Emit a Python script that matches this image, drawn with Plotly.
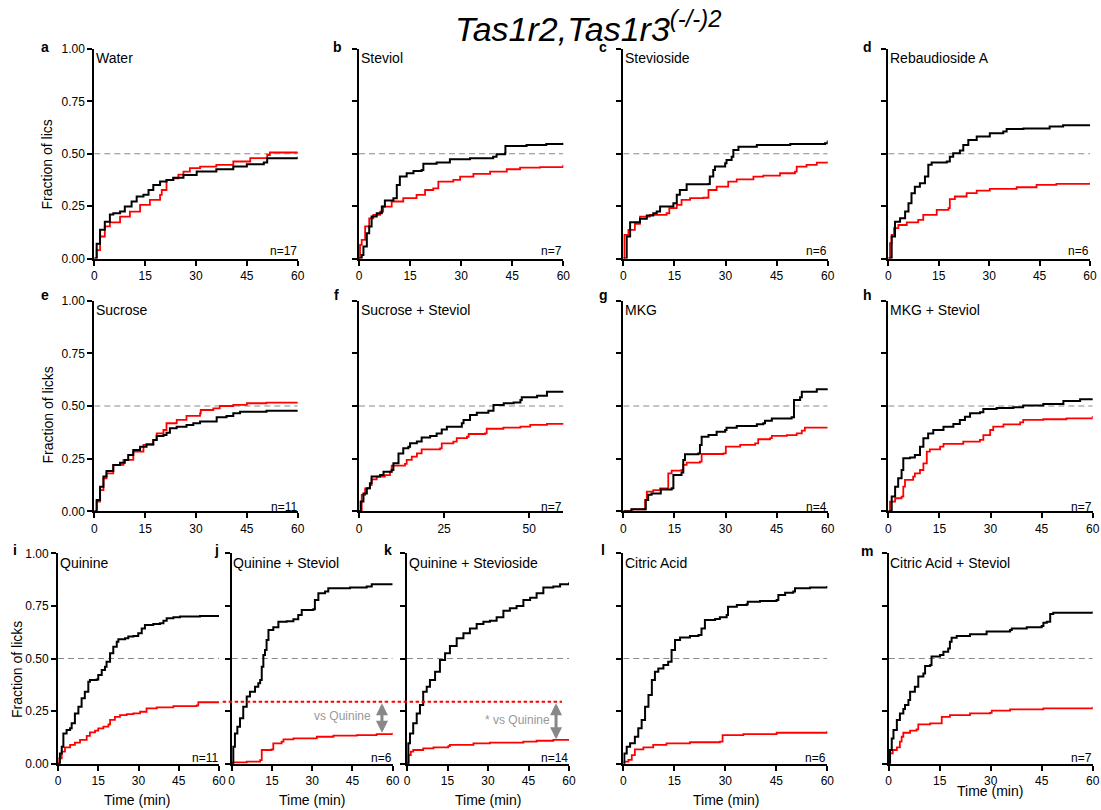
import plotly.graph_objects as go

# ---------------- data ----------------
PANEL_LETTERS = ["a", "b", "c", "d", "e", "f", "g", "h", "i", "j", "k", "l", "m"]
PANEL_NAMES = ["Water", "Steviol", "Stevioside", "Rebaudioside A",
               "Sucrose", "Sucrose + Steviol", "MKG", "MKG + Steviol",
               "Quinine", "Quinine + Steviol", "Quinine + Stevioside",
               "Citric Acid", "Citric Acid + Steviol"]
N_LABELS = ["n=17", "n=7", "n=6", "n=6", "n=11", "n=7", "n=4", "n=7",
            "n=11", "n=6", "n=14", "n=6", "n=7"]
Y_TICKS = [0, 0.25, 0.5, 0.75, 1.0]
Y_TICK_TEXT = ["0.00", "0.25", "0.50", "0.75", "1.00"]
X_TICKS = [0, 15, 30, 45, 60]
X_TICKS_F = [0, 25, 50]
HALF_LINE = 0.5
QUININE_REF = 0.295

a_bt = [0, 0.7, 1.7, 3.1, 4.6, 5.6, 7.6, 9, 11, 12.5, 14.5, 16, 17.4, 19.4, 21.3, 23.3, 26.3, 30.2, 36, 41, 45, 50, 51, 60]
a_bv = [0, 0.07, 0.137, 0.176, 0.21, 0.216, 0.224, 0.248, 0.272, 0.296, 0.304, 0.327, 0.351, 0.367, 0.375, 0.386, 0.399, 0.415, 0.426, 0.439, 0.45, 0.458, 0.479, 0.486]
a_rt = [0, 0.7, 1.7, 3.1, 4.6, 7.6, 10.5, 13.5, 16.4, 19.4, 19.9, 21.3, 23.3, 24.8, 26.3, 28.2, 31.2, 36, 41, 46, 51, 51.8, 60]
a_rv = [0, 0.04, 0.105, 0.153, 0.172, 0.2, 0.224, 0.256, 0.28, 0.304, 0.327, 0.375, 0.383, 0.4, 0.415, 0.431, 0.439, 0.447, 0.463, 0.479, 0.494, 0.506, 0.51]

b_bt = [0, 0.8, 1.3, 2.3, 3, 3.7, 5.2, 6.7, 7.6, 10.1, 11.1, 12, 14, 16, 18.4, 18.9, 22.8, 26.7, 32.6, 39.4, 40.4, 42.9, 43, 49.2, 55, 60]
b_bv = [0, 0.017, 0.057, 0.12, 0.153, 0.2, 0.216, 0.248, 0.277, 0.288, 0.351, 0.391, 0.407, 0.418, 0.423, 0.452, 0.458, 0.474, 0.479, 0.486, 0.498, 0.502, 0.537, 0.542, 0.547, 0.553]
b_rt = [0, 0.3, 0.8, 1.8, 3, 4.2, 6.2, 7.1, 9.6, 13, 16.9, 19.4, 21.8, 23.3, 27.7, 29.7, 33.6, 38.5, 43.4, 47.3, 53.2, 60]
b_rv = [0, 0.065, 0.089, 0.153, 0.192, 0.208, 0.224, 0.248, 0.272, 0.288, 0.304, 0.327, 0.335, 0.367, 0.375, 0.391, 0.404, 0.415, 0.426, 0.434, 0.436, 0.447]

c_bt = [0, 1, 2, 3.4, 4.9, 6.9, 8.8, 9.8, 10.8, 14.7, 15.7, 16.6, 18.6, 25, 25.4, 26.4, 26.9, 29.9, 30.3, 31.8, 32.3, 33.8, 39.2, 49, 59.2, 60]
c_bv = [0, 0.105, 0.173, 0.173, 0.19, 0.205, 0.216, 0.224, 0.248, 0.264, 0.304, 0.327, 0.355, 0.356, 0.391, 0.423, 0.439, 0.455, 0.47, 0.486, 0.518, 0.534, 0.542, 0.547, 0.55, 0.563]
c_rt = [0, 0.3, 1.5, 3.4, 4.9, 7.8, 12.7, 13.5, 15.7, 17.1, 19.6, 23.5, 25, 27.4, 30.8, 33.3, 38.2, 41.1, 46, 50.4, 50.9, 53.8, 56.8, 60]
c_rv = [0, 0.113, 0.137, 0.165, 0.2, 0.208, 0.216, 0.24, 0.256, 0.28, 0.288, 0.29, 0.327, 0.343, 0.367, 0.378, 0.391, 0.396, 0.407, 0.415, 0.439, 0.447, 0.458, 0.463]

d_bt = [0, 1, 2, 3.5, 5, 6, 6.9, 7.9, 9.4, 10.9, 11.9, 12.9, 17.4, 18.3, 19.3, 21.3, 22.3, 23.8, 26.3, 30.2, 34.2, 35.2, 40.2, 48, 52, 60]
d_bv = [0, 0.105, 0.176, 0.192, 0.224, 0.264, 0.312, 0.343, 0.359, 0.391, 0.447, 0.458, 0.463, 0.486, 0.502, 0.515, 0.542, 0.566, 0.582, 0.598, 0.606, 0.618, 0.62, 0.63, 0.636, 0.638]
d_rt = [0, 0.5, 1, 1.7, 3, 5.5, 8.9, 10.4, 14.4, 17.9, 18.3, 19.8, 23.3, 26.3, 30.2, 38.2, 44.1, 50, 60]
d_rv = [0, 0.073, 0.113, 0.145, 0.16, 0.172, 0.184, 0.208, 0.232, 0.24, 0.283, 0.296, 0.312, 0.324, 0.332, 0.34, 0.351, 0.356, 0.362]

e_bt = [0, 0.7, 1.7, 2.7, 3.6, 5.6, 7.6, 9, 10, 11.5, 13.5, 15.4, 17.4, 18.4, 20.4, 21.3, 22.3, 24.3, 27.2, 29.2, 31.2, 36.1, 39, 41, 43, 50.8, 60]
e_bv = [0, 0.054, 0.117, 0.165, 0.191, 0.22, 0.231, 0.244, 0.267, 0.291, 0.307, 0.318, 0.339, 0.358, 0.362, 0.373, 0.394, 0.402, 0.41, 0.418, 0.426, 0.446, 0.453, 0.465, 0.473, 0.478, 0.48]
e_rt = [0, 0.7, 1.7, 2.7, 3.6, 5.6, 8.6, 11.5, 14.5, 17.4, 18.4, 20.4, 21.3, 24.3, 27.2, 31.2, 31.4, 35.1, 37, 41, 45, 50.8, 60]
e_rv = [0, 0.046, 0.101, 0.157, 0.18, 0.22, 0.244, 0.283, 0.315, 0.339, 0.37, 0.386, 0.418, 0.434, 0.453, 0.465, 0.481, 0.489, 0.5, 0.505, 0.513, 0.516, 0.519]

f_bt = [0, 0.5, 1.3, 2.3, 3.2, 3.7, 6.2, 7.2, 9.6, 10.1, 11.6, 13, 14.5, 15, 17, 18.4, 20.9, 22.8, 24.3, 25.8, 30.2, 30.7, 32.6, 34.6, 38, 39.5, 42.5, 45.4, 47.4, 47.8, 52.3, 55.2, 60]
f_bv = [0, 0.046, 0.085, 0.109, 0.133, 0.165, 0.172, 0.188, 0.196, 0.228, 0.275, 0.299, 0.307, 0.323, 0.331, 0.351, 0.358, 0.37, 0.389, 0.402, 0.418, 0.434, 0.457, 0.468, 0.478, 0.505, 0.513, 0.517, 0.528, 0.541, 0.549, 0.568, 0.573]
f_rt = [0, 0.8, 1.8, 3.2, 3.7, 5.2, 7.6, 9.1, 9.6, 13.5, 14, 15.5, 17, 18.4, 23.8, 24.3, 27.7, 28.7, 31.7, 32.2, 37, 37.5, 42.4, 47.4, 50.3, 55.2, 60]
f_rv = [0, 0.078, 0.109, 0.125, 0.152, 0.165, 0.172, 0.188, 0.217, 0.225, 0.244, 0.26, 0.275, 0.294, 0.299, 0.323, 0.331, 0.347, 0.354, 0.367, 0.37, 0.392, 0.397, 0.402, 0.41, 0.415, 0.419]

g_bt = [0, 2.4, 6.4, 6.6, 7.3, 8.3, 10.8, 11, 14.2, 14.7, 17.1, 17.6, 18.1, 22, 22.5, 23, 25, 27.4, 29.9, 30.3, 33.3, 39.2, 41.1, 41.6, 43.6, 49.4, 50.1, 51.9, 52.4, 56.8, 60]
g_bv = [0, 0.0095, 0.0095, 0.054, 0.078, 0.085, 0.085, 0.104, 0.109, 0.172, 0.184, 0.244, 0.271, 0.275, 0.315, 0.354, 0.362, 0.378, 0.386, 0.397, 0.405, 0.413, 0.418, 0.43, 0.441, 0.446, 0.528, 0.541, 0.568, 0.579, 0.584]
g_rt = [0, 2.4, 5.9, 6.4, 6.9, 8.8, 10.8, 12.7, 13.2, 14.2, 17.1, 17.6, 18.6, 22.5, 23, 29.4, 30.1, 34.3, 38.7, 39.6, 43.1, 43.6, 48, 50.9, 52.4, 53.3, 60]
g_rv = [0, 0.0095, 0.0095, 0.054, 0.093, 0.101, 0.109, 0.109, 0.18, 0.193, 0.196, 0.22, 0.231, 0.236, 0.272, 0.275, 0.307, 0.315, 0.323, 0.342, 0.347, 0.358, 0.362, 0.37, 0.383, 0.397, 0.397]

h_bt = [0, 1, 2, 2.9, 3.9, 4.4, 6.4, 7.8, 9.3, 10.3, 11.7, 13.2, 16.2, 19.1, 21, 22.5, 24, 26.9, 27.9, 31.8, 36.7, 39.6, 45.5, 51.4, 56.3, 60]
h_bv = [0, 0.07, 0.117, 0.157, 0.196, 0.252, 0.255, 0.267, 0.307, 0.347, 0.37, 0.386, 0.402, 0.415, 0.434, 0.449, 0.465, 0.47, 0.486, 0.491, 0.494, 0.502, 0.51, 0.524, 0.532, 0.536]
h_rt = [0, 0.5, 2, 3.9, 4.4, 4.9, 7.3, 7.8, 9.3, 10.3, 11.3, 12.2, 15.2, 16.2, 22, 26.9, 27.9, 29.9, 30.8, 33.8, 38.7, 39.6, 45.5, 52.3, 60]
h_rv = [0, 0.046, 0.062, 0.07, 0.117, 0.149, 0.165, 0.18, 0.196, 0.228, 0.283, 0.294, 0.307, 0.32, 0.331, 0.339, 0.362, 0.386, 0.402, 0.413, 0.422, 0.434, 0.437, 0.441, 0.453]

i_bt = [0, 0.7, 1.4, 2, 3.2, 4.5, 5.1, 6.3, 7.6, 8.8, 10, 11.3, 11.9, 14.4, 15, 16.3, 17.5, 18.1, 19.4, 20.6, 21.9, 22.5, 25, 26.2, 28.1, 29.9, 31.2, 32.4, 35.5, 38, 39.3, 40.5, 43, 45.5, 52.9, 60]
i_bv = [0, 0.049, 0.081, 0.144, 0.16, 0.168, 0.192, 0.239, 0.271, 0.311, 0.342, 0.39, 0.398, 0.4, 0.422, 0.445, 0.461, 0.485, 0.525, 0.556, 0.58, 0.591, 0.596, 0.604, 0.607, 0.62, 0.643, 0.659, 0.664, 0.667, 0.68, 0.691, 0.696, 0.7, 0.702, 0.705]
i_rt = [0, 0.5, 1.4, 2.6, 4.5, 6.3, 8.2, 10.7, 11.9, 13.8, 15, 16.9, 18.8, 19.4, 21.2, 23.1, 25.6, 28.1, 30.6, 33, 36.8, 43, 51.7, 52.3, 60]
i_rv = [0, 0.025, 0.057, 0.078, 0.089, 0.1, 0.113, 0.132, 0.149, 0.157, 0.168, 0.176, 0.187, 0.208, 0.223, 0.231, 0.236, 0.239, 0.247, 0.263, 0.268, 0.274, 0.277, 0.292, 0.295]

j_bt = [0, 0.6, 1.2, 2.1, 3.1, 4.3, 5.6, 6.8, 8.7, 9.9, 10.6, 11.2, 11.8, 12.4, 13, 13.7, 15.5, 17.4, 20.5, 23, 24.8, 26.1, 30.4, 31, 32.3, 34.8, 36, 44.1, 50.3, 52.2, 60]
j_bv = [0, 0.081, 0.144, 0.176, 0.216, 0.271, 0.319, 0.342, 0.366, 0.382, 0.398, 0.461, 0.517, 0.54, 0.588, 0.636, 0.648, 0.675, 0.677, 0.686, 0.707, 0.731, 0.734, 0.778, 0.81, 0.818, 0.834, 0.838, 0.842, 0.853, 0.853]
j_rt = [0, 0.6, 5.6, 10.6, 11.2, 14.9, 15.5, 18.6, 19.3, 23, 31.7, 37.9, 46.6, 54, 60]
j_rv = [0, 0.006, 0.0095, 0.017, 0.065, 0.068, 0.097, 0.105, 0.116, 0.12, 0.128, 0.133, 0.136, 0.141, 0.147]

k_bt = [0, 0.5, 1.1, 2.3, 3.6, 4.8, 6, 7.3, 8.5, 10.4, 12.2, 14.1, 15.9, 18.4, 20.9, 23.3, 25.8, 28.3, 30.7, 33.2, 35.7, 38.1, 40.6, 43.1, 45.6, 48, 50.5, 54.2, 56.7, 60]
k_bv = [0, 0.097, 0.144, 0.192, 0.239, 0.279, 0.342, 0.366, 0.398, 0.437, 0.493, 0.525, 0.559, 0.596, 0.62, 0.643, 0.664, 0.675, 0.68, 0.696, 0.727, 0.739, 0.75, 0.778, 0.789, 0.81, 0.837, 0.842, 0.853, 0.861]
k_rt = [0, 0.6, 1.4, 2.3, 6, 9.8, 15.3, 15.9, 24.6, 30.7, 43.1, 48, 54.2, 60]
k_rv = [0, 0.041, 0.057, 0.065, 0.073, 0.078, 0.084, 0.089, 0.097, 0.1, 0.105, 0.109, 0.113, 0.116]

l_bt = [0, 0.3, 1, 2, 3.4, 4.4, 5.4, 6.4, 7.4, 8.4, 9.3, 10.3, 11.8, 13.2, 14.2, 15.2, 16.7, 19.6, 22.1, 23, 24, 27, 28.4, 30.4, 30.8, 33.4, 36.3, 36.6, 40.2, 45.1, 45.6, 47.6, 50, 50.5, 54.9, 60]
l_bv = [0, 0.049, 0.081, 0.097, 0.128, 0.168, 0.208, 0.271, 0.327, 0.398, 0.437, 0.453, 0.469, 0.485, 0.54, 0.588, 0.6, 0.607, 0.612, 0.643, 0.683, 0.688, 0.696, 0.707, 0.746, 0.754, 0.758, 0.77, 0.773, 0.778, 0.802, 0.813, 0.818, 0.834, 0.838, 0.844]
l_rt = [0, 0.3, 1.5, 2.5, 3.4, 5.9, 8.8, 12.7, 19.6, 28.4, 29.2, 35.3, 45.1, 60]
l_rv = [0, 0.01, 0.018, 0.041, 0.068, 0.078, 0.089, 0.097, 0.102, 0.105, 0.136, 0.141, 0.147, 0.155]

m_bt = [0, 0.4, 0.9, 1.4, 2.4, 3.3, 4.3, 4.8, 5.8, 6.3, 7.7, 8.7, 10.2, 10.7, 12.2, 12.6, 15.1, 16.1, 17.5, 18, 18.5, 20, 23.9, 28.8, 35.7, 36.2, 40.6, 45, 45.5, 46.5, 47.5, 48.4, 55.3, 60]
m_bv = [0, 0.065, 0.12, 0.16, 0.208, 0.239, 0.26, 0.279, 0.303, 0.342, 0.366, 0.414, 0.429, 0.464, 0.469, 0.509, 0.517, 0.532, 0.548, 0.58, 0.599, 0.607, 0.615, 0.628, 0.636, 0.643, 0.648, 0.655, 0.67, 0.675, 0.712, 0.718, 0.718, 0.723]
m_rt = [0, 0.4, 1.2, 2.4, 3.3, 3.8, 4.3, 6.3, 8.2, 8.7, 12.2, 15.1, 15.6, 18, 23.9, 29.8, 30.3, 35.7, 45.5, 60]
m_rv = [0, 0.049, 0.065, 0.078, 0.105, 0.128, 0.147, 0.157, 0.163, 0.187, 0.192, 0.192, 0.223, 0.231, 0.239, 0.242, 0.252, 0.258, 0.263, 0.271]

BLACK_T = [a_bt, b_bt, c_bt, d_bt, e_bt, f_bt, g_bt, h_bt, i_bt, j_bt, k_bt, l_bt, m_bt]
BLACK_V = [a_bv, b_bv, c_bv, d_bv, e_bv, f_bv, g_bv, h_bv, i_bv, j_bv, k_bv, l_bv, m_bv]
RED_T = [a_rt, b_rt, c_rt, d_rt, e_rt, f_rt, g_rt, h_rt, i_rt, j_rt, k_rt, l_rt, m_rt]
RED_V = [a_rv, b_rv, c_rv, d_rv, e_rv, f_rv, g_rv, h_rv, i_rv, j_rv, k_rv, l_rv, m_rv]

# ---------------- layout geometry (pixels) ----------------
W, H = 1101, 810
ROW_Y = [(49, 258.5), (300.7, 511.3), (553.3, 763.7)]
BOXES = [
    (94.3, 297.7, 0), (359, 563.3, 0), (623.3, 827.7, 0), (888.3, 1090, 0),
    (94.3, 297.7, 1), (359, 563.3, 1), (623.3, 827.7, 1), (888.3, 1092.7, 1),
    (58, 219, 2), (231.7, 392.7, 2), (407, 569, 2), (623.3, 827.3, 2), (888.7, 1092.7, 2),
]
LETTER_POS = [(45, 47), (337, 47), (603, 47), (867, 47),
              (45, 295), (336, 295), (603, 295), (867, 295),
              (15, 550), (216, 550), (388, 550), (603, 550), (867, 551)]
TITLE_Y = [58.5, 310, 562.5]
NLAB_Y = [251.5, 506.5, 758]

FONT = "Liberation Sans, Arial, sans-serif"


def px(x):
    return x / W


def py(y):
    return 1 - y / H


fig = go.Figure()
layout = dict(
    width=W, height=H, autosize=False,
    margin=dict(l=0, r=0, t=0, b=0, pad=0, autoexpand=False),
    paper_bgcolor="white", plot_bgcolor="white",
    showlegend=False,
    font=dict(family=FONT, size=12, color="black"),
)
annotations = []
shapes = []

for idx in range(13):
    n = idx + 1
    sx = "" if n == 1 else str(n)
    x0, x1, row = BOXES[idx]
    yt, yb = ROW_Y[row]
    first_col = idx in (0, 4, 8)
    xt = X_TICKS_F if PANEL_LETTERS[idx] == "f" else X_TICKS
    layout["xaxis" + sx] = dict(
        domain=[px(x0), px(x1)], range=[0, 60], anchor="y" + sx,
        tickvals=xt, ticks="outside", ticklen=5, tickwidth=1.5, tickcolor="black",
        showline=True, linewidth=2, linecolor="black", showgrid=False, zeroline=False,
        tickfont=dict(size=12, family=FONT, color="black"), fixedrange=True, automargin=False,
    )
    layout["yaxis" + sx] = dict(
        domain=[py(yb), py(yt)], range=[0, 1], anchor="x" + sx,
        tickvals=Y_TICKS, ticktext=Y_TICK_TEXT, showticklabels=first_col,
        ticks="outside", ticklen=5, tickwidth=1.5, tickcolor="black",
        showline=True, linewidth=2, linecolor="black", showgrid=False, zeroline=False,
        tickfont=dict(size=12, family=FONT, color="black"), fixedrange=True, automargin=False,
    )
    shapes.append(dict(type="line", xref="x" + sx, yref="y" + sx, x0=0, x1=60,
                       y0=HALF_LINE, y1=HALF_LINE, layer="below",
                       line=dict(color="#8a8a8a", width=1.2, dash="6px,4px")))
    fig.add_trace(go.Scatter(x=RED_T[idx], y=RED_V[idx], mode="lines", line_shape="hv",
                             line=dict(color="#ff0000", width=1.8), xaxis="x" + sx, yaxis="y" + sx,
                             hoverinfo="skip"))
    fig.add_trace(go.Scatter(x=BLACK_T[idx], y=BLACK_V[idx], mode="lines", line_shape="hv",
                             line=dict(color="black", width=2), xaxis="x" + sx, yaxis="y" + sx,
                             hoverinfo="skip"))
    lx, ly = LETTER_POS[idx]
    annotations.append(dict(xref="paper", yref="paper", x=px(lx), y=py(ly), text="<b>%s</b>" % PANEL_LETTERS[idx],
                            showarrow=False, xanchor="center", yanchor="middle",
                            font=dict(size=14, family=FONT, color="black")))
    annotations.append(dict(xref="paper", yref="paper", x=px(x0 - 0.5), y=py(TITLE_Y[row]), text=PANEL_NAMES[idx],
                            showarrow=False, xanchor="left", yanchor="middle",
                            font=dict(size=14, family=FONT, color="black")))
    annotations.append(dict(xref="paper", yref="paper", x=px(x1 + 1), y=py(NLAB_Y[row]), text=N_LABELS[idx],
                            showarrow=False, xanchor="right", yanchor="middle",
                            font=dict(size=12, family=FONT, color="black")))

# y-axis titles (the first one keeps the reference's spelling)
for (tx, ty, txt) in [(47, 164.5, "Fraction of lics"), (47, 415.5, "Fraction of licks"), (17, 670, "Fraction of licks")]:
    annotations.append(dict(xref="paper", yref="paper", x=px(tx), y=py(ty), text=txt, textangle=-90,
                            showarrow=False, xanchor="center", yanchor="middle",
                            font=dict(size=14, family=FONT, color="black")))
# x-axis titles
for (tx, ty) in [(137, 800), (312, 800), (488, 800), (725.5, 800), (990, 790.5)]:
    annotations.append(dict(xref="paper", yref="paper", x=px(tx), y=py(ty), text="Time (min)",
                            showarrow=False, xanchor="center", yanchor="middle",
                            font=dict(size=14, family=FONT, color="black")))

# red dotted Quinine reference level in j and k
shapes.append(dict(type="line", xref="x10 domain", yref="y10", x0=-0.056, x1=0.983,
                   y0=QUININE_REF, y1=QUININE_REF,
                   line=dict(color="#ff0000", width=2, dash="3.5px,2.5px")))
shapes.append(dict(type="line", xref="x11 domain", yref="y11", x0=-0.095, x1=0.957,
                   y0=QUININE_REF, y1=QUININE_REF,
                   line=dict(color="#ff0000", width=2, dash="3.5px,2.5px")))

# grey double-headed arrows + labels
for (ax_, yend, xpos, txt, tx, ty) in [("10", j_rv[-1], 56, "vs Quinine", 41.3, 0.228),
                                       ("11", k_rv[-1], 55.2, "* vs Quinine", 41.1, 0.208)]:
    annotations.append(dict(xref="x" + ax_, yref="y" + ax_, axref="x" + ax_, ayref="y" + ax_,
                            x=xpos, y=yend, ax=xpos, ay=QUININE_REF, text="",
                            showarrow=True, arrowhead=2, startarrowhead=2, arrowside="end+start",
                            arrowsize=0.8, startarrowsize=0.8, arrowwidth=3, arrowcolor="#888888",
                            standoff=0, startstandoff=0))
    annotations.append(dict(xref="x" + ax_, yref="y" + ax_, x=tx, y=ty, text=txt, showarrow=False,
                            xanchor="center", yanchor="middle",
                            font=dict(size=12, family=FONT, color="#999999")))

# main title
annotations.append(dict(xref="paper", yref="paper", x=px(588), y=py(27), xanchor="center", yanchor="middle",
                        text="<i>Tas1r2,Tas1r3<sup>(-/-)2</sup></i>", showarrow=False,
                        font=dict(size=34, family=FONT, color="black")))

layout["annotations"] = annotations
layout["shapes"] = shapes
fig.update_layout(**layout)

fig.write_html("out.html", config={"displayModeBar": False},
               post_script="document.body.style.margin='0';document.body.style.padding='0';")
